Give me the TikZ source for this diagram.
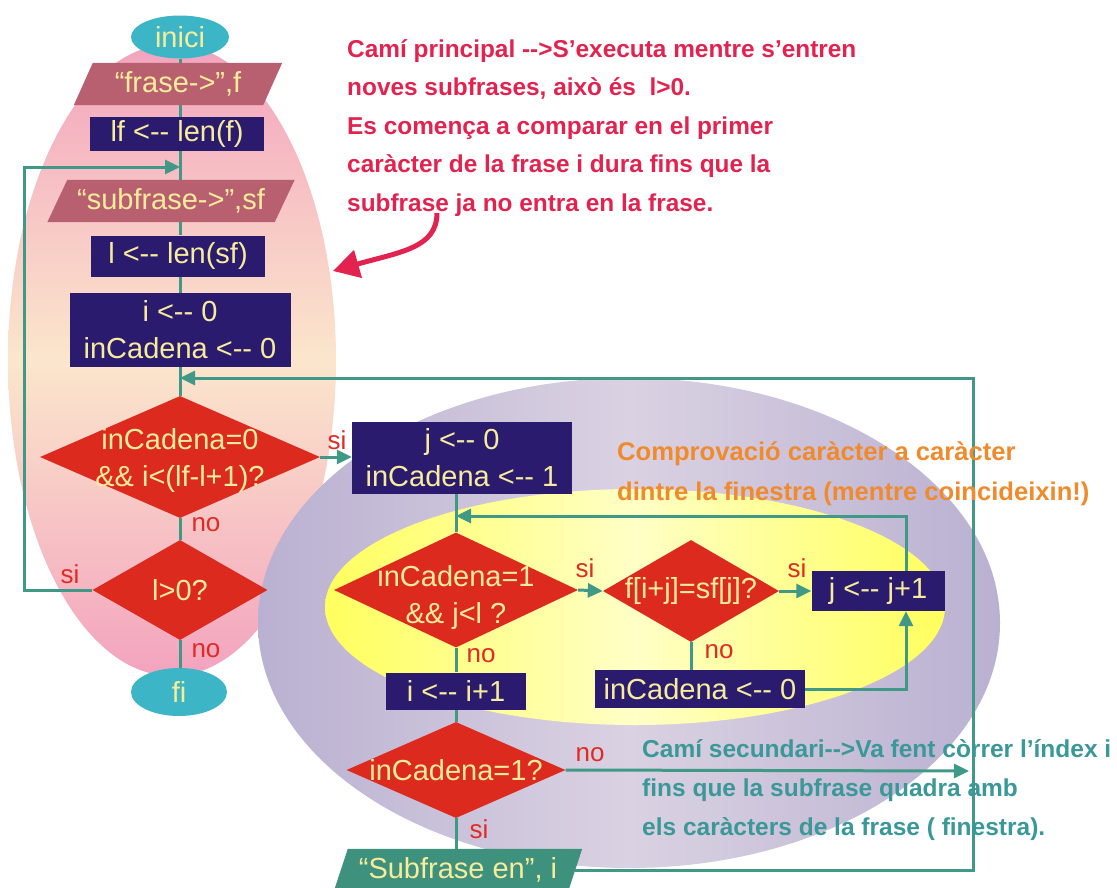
\documentclass[tikz,border=0pt]{standalone}
\usepackage{fontspec}
\setmainfont{Liberation Sans}[Ligatures=TeXOff]
\usetikzlibrary{shapes.geometric,arrows.meta}

\definecolor{navy}{HTML}{2B1B6E}
\definecolor{decred}{HTML}{DC2A1F}
\definecolor{rose}{HTML}{B8606F}
\definecolor{termcyan}{HTML}{3CB6C6}
\definecolor{link}{HTML}{3F9986}
\definecolor{outgreen}{HTML}{3E917C}
\definecolor{boxtxt}{HTML}{F7EC9C}
\definecolor{crimson}{HTML}{E2234F}
\definecolor{notegold}{HTML}{F08A2C}
\definecolor{noteteal}{HTML}{3A9898}
\definecolor{lblred}{HTML}{E02A24}
\definecolor{eggpink}{HTML}{F3A3BE}
\definecolor{eggcream}{HTML}{FBE6CC}
\definecolor{lavdark}{HTML}{BAB0D1}
\definecolor{lavlight}{HTML}{DAD2E2}
\definecolor{yeldark}{HTML}{FFFF5E}
\definecolor{yellight}{HTML}{FFFFC6}

\newcommand{\boxfont}{\fontsize{29}{37}\selectfont}
% slanted input/output box drawn behind a rectangular text node
\newcommand{\slantbox}[3]{% node name, slant, colour
  \fill[#3] ([xshift=-#2/2]#1.south west) -- ([xshift=#2/2]#1.north west)
    -- ([xshift=#2/2]#1.north east) -- ([xshift=-#2/2]#1.south east) -- cycle;}

\pgfdeclarelayer{back}
\pgfdeclarelayer{shapes}
\pgfsetlayers{back,shapes,main}

\begin{document}
\begin{tikzpicture}[x=1pt,y=-1pt,
  proc/.style={rectangle, fill=navy, text=boxtxt, inner sep=0pt, font=\boxfont, align=center},
  dec/.style={diamond, fill=decred, inner sep=0pt},
  dectext/.style={text=boxtxt, font=\boxfont, align=center, inner sep=0pt},
  io/.style={rectangle, text=boxtxt, inner sep=0pt, font=\boxfont},
  term/.style={ellipse, fill=termcyan, text=boxtxt, inner sep=0pt, font=\boxfont},
  conn/.style={draw=link, line width=3pt},
  arr/.style={conn, -{Triangle[length=15pt,width=14pt]}},
  lbl/.style={text=lblred, font=\fontsize{26}{26}\selectfont, inner sep=0pt},
  note/.style={font=\bfseries, align=left, inner sep=0pt, anchor=north west}
]
\useasboundingbox (0,0) rectangle (1117,887);

% shaded regions behind the flow
\begin{pgfonlayer}{back}
\shade[top color=eggpink, bottom color=eggpink, middle color=eggcream] (172,360) ellipse (164pt and 316pt);
\shade[left color=lavdark, right color=lavdark, middle color=lavlight] (629,623) ellipse (371pt and 245pt);
\shade[left color=yeldark, right color=yeldark, middle color=yellight] (635,607) ellipse (310pt and 118pt);
\end{pgfonlayer}

% main path
\node[term, minimum width=98pt, minimum height=43pt] (inici) at (180,37) {inici};
\node[io, minimum width=189pt, minimum height=42pt] (frase) at (178,84) {“frase->”,f};
\node[proc, minimum width=174pt, minimum height=34pt] (lf) at (177,134) {lf <-- len(f)};
\node[io, minimum width=227pt, minimum height=42pt] (sub) at (171,201) {“subfrase->”,sf};
\node[proc, minimum width=174pt, minimum height=41pt] (lsf) at (178,256) {l <-- len(sf)};
\node[proc, minimum width=221pt, minimum height=74pt] (ini0) at (180,330) {i <-- 0\\inCadena <-- 0};
\node[dec, minimum width=280pt, minimum height=122pt,
  label={[dectext, yshift=-3pt]center:{inCadena=0\\\&\& i<(lf-l+1)?}}] (d1) at (180,457) {};
\node[dec, minimum width=175pt, minimum height=100pt,
  label={[dectext]center:{l>0?}}] (d2) at (180,590) {};
\node[term, minimum width=96pt, minimum height=48pt] (fi) at (179,692) {fi};

% secondary path
\node[proc, minimum width=220pt, minimum height=72pt] (j0) at (462,458) {j <-- 0\\inCadena <-- 1};
\node[dec, minimum width=244pt, minimum height=115pt,
  label={[dectext, yshift=-7pt]center:{inCadena=1\\\&\& j<l ?}}] (d3) at (456,590) {};
\node[dec, minimum width=176pt, minimum height=102pt,
  label={[dectext]center:{f[i+j]=sf[j]?}}] (d4) at (691,591) {};
\node[proc, minimum width=133pt, minimum height=40pt] (jj) at (878,591) {j <-- j+1};
\node[proc, minimum width=140pt, minimum height=37pt] (ii) at (456,691) {i <-- i+1};
\node[proc, minimum width=210pt, minimum height=38pt] (c0) at (700,689) {inCadena <-- 0};
\node[dec, minimum width=219pt, minimum height=96pt,
  label={[dectext]center:{inCadena=1?}}] (d5) at (456,770) {};
\node[io, minimum width=234pt, minimum height=42pt] (sfen) at (458,870) {“Subfrase en”, i};

% slanted input/output shapes
\begin{pgfonlayer}{shapes}
\slantbox{frase}{19pt}{rose}
\slantbox{sub}{20pt}{rose}
\slantbox{sfen}{14pt}{outgreen}
\end{pgfonlayer}

% turning points of the loops
\coordinate (m1) at (180,167);
\coordinate (m2) at (180,378);
\coordinate (lp) at (906,516);
\coordinate (rt) at (973,378);
\coordinate (ex) at (969,771);

% connectors, main path
\begin{pgfonlayer}{shapes}
\draw[conn] (inici) -- (frase.north -| inici);
\draw[conn] (frase.south -| inici) -- (lf.north -| inici);
\draw[conn] (lf.south -| inici) -- (sub.north -| inici);
\draw[conn] (sub.south -| inici) -- (lsf.north -| inici);
\end{pgfonlayer}
\draw[conn] (lsf.south -| ini0) -- (ini0);
\draw[conn] (ini0) -- (d1);
\draw[conn] (d1) -- (d2);
\draw[conn] (d2) -- (fi.north -| d2);
\draw[arr] (d2.west) -- ++(-68,0) |- (m1);
\draw[arr] (d1.east) -- (d1.east -| j0.west);

% connectors, secondary path
\draw[conn] (d3.north |- j0.south) -- (d3.north);
\draw[arr] (d3.east) -- (d4.west);
\draw[arr] (d4.east) -- (d4.east -| jj.west);
\draw[conn] (d4.south) -- (d4.south |- c0.north);
\draw[arr] (c0.east) -| (jj.south -| lp);
\draw[arr] (jj.north -| lp) -- (lp) -- (lp -| d3.north);
\draw[conn] (d3.south) -- (ii.north);
\draw[conn] (ii.south) -- (d5.north);
\draw[arr] (d5.east) -- (ex);
\begin{pgfonlayer}{shapes}
\draw[conn] (d5.south) -- (d5.south |- sfen.north);
\draw[arr] (sfen.east) -| (rt) -- (m2);
\end{pgfonlayer}

% branch labels
\node[lbl] (l1) at (206,525) {no};
\node[lbl] (l2) at (206,651) {no};
\node[lbl] (l3) at (70,574) {si};
\node[lbl] (l4) at (337,440) {si};
\node[lbl] (l5) at (585,568) {si};
\node[lbl] (l6) at (797,568) {si};
\node[lbl] (l7) at (481,656) {no};
\node[lbl] (l8) at (719,652) {no};
\node[lbl] (l9) at (590,755) {no};
\node[lbl] (l10) at (479,829) {si};

% notes
\node[note, text=crimson, font=\fontsize{24.4}{38.5}\selectfont\bfseries] (n1) at (347,39) {Camí principal -->S’executa mentre s’entren\\
noves subfrases, això és \ l>0.\\
Es comença a comparar en el primer\\
caràcter de la frase i dura fins que la\\
subfrase ja no entra en la frase.};
\coordinate (ca) at (437,213);
\coordinate (cb) at (333,271);
\draw[crimson, line width=5pt, -{Triangle[length=26pt,width=28pt]}] (ca) .. controls (437,248) and (400,252) .. (cb);

\node[note, text=notegold, font=\fontsize{25.6}{40}\selectfont\bfseries] (n2) at (617,442) {Comprovació caràcter a caràcter\\
dintre la finestra (mentre coincideixin!)};
\node[note, text=noteteal, font=\fontsize{24.5}{39}\selectfont\bfseries] (n3) at (642,739) {Camí secundari-->Va fent còrrer l’índex i\\
fins que la subfrase quadra amb\\
els caràcters de la frase ( finestra).};
\end{tikzpicture}
\end{document}
